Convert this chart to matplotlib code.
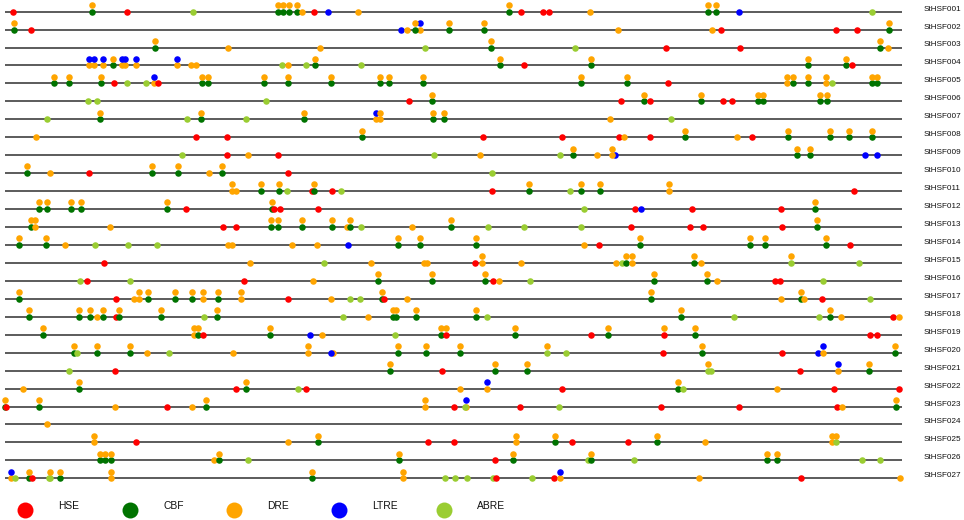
import matplotlib
matplotlib.use('Agg')
import matplotlib.pyplot as plt

# element codes: H=HSE, C=CBF, D=DRE, L=LTRE, A=ABRE
element_names = ['HSE', 'CBF', 'DRE', 'LTRE', 'ABRE']
element_codes = ['H', 'C', 'D', 'L', 'A']
element_colors = ['#ff0000', '#007300', '#ffa500', '#0000ff', '#9acd32']

genes = ['StHSF%03d' % i for i in range(1, 28)]

# sites per gene: (position, element on line, [element stacked above])
R01 = [(13,'H'),(92,'C','D'),(127,'H'),(193,'A'),(278,'C','D'),(283,'C','D'),(289,'C','D'),(297,'C','D'),(302,'D'),(314,'H'),(328,'L'),(358,'D'),(509,'C','D'),(521,'H'),(543,'H'),(549,'H'),(590,'D'),(708,'C','D'),(716,'C','D'),(739,'L'),(872,'A')]
R02 = [(14,'C','D'),(31,'H'),(401,'L'),(407,'D'),(420,'D','L'),(415,'C','D'),(449,'C','D'),(484,'C','D'),(618,'D'),(712,'D'),(721,'H'),(836,'H'),(857,'H'),(889,'C','D')]
R03 = [(155,'C','D'),(228,'D'),(320,'D'),(425,'A'),(491,'C','D'),(575,'A'),(666,'H'),(740,'H'),(880,'C','D'),(888,'D')]
R04 = [(89,'D','L'),(94,'D','L'),(103,'D','L'),(113,'C','D'),(122,'D','L'),(125,'D','L'),(136,'D','L'),(177,'D','L'),(191,'D'),(196,'D'),(282,'A'),(288,'D'),(306,'A'),(315,'C','D'),(361,'A'),(500,'C','D'),(524,'H'),(591,'C','D'),(808,'C','D'),(846,'C','D'),(852,'H')]
R05 = [(54,'C','D'),(69,'C','D'),(101,'C','D'),(114,'H'),(127,'A'),(146,'A'),(154,'D','L'),(158,'H'),(202,'C','D'),(208,'C','D'),(264,'C','D'),(288,'C','D'),(331,'C','D'),(380,'C','D'),(389,'C','D'),(423,'C','D'),(581,'C','D'),(627,'C','D'),(668,'H'),(787,'D','D'),(793,'C','D'),(808,'C','D'),(826,'D','D'),(832,'A'),(872,'C','D'),(877,'C','D')]
R06 = [(88,'A'),(97,'A'),(266,'A'),(409,'H'),(432,'C','D'),(621,'H'),(644,'C','D'),(650,'H'),(701,'C','D'),(723,'H'),(732,'H'),(758,'C','D'),(763,'C','D'),(820,'C','D'),(827,'C','D')]
R07 = [(47,'A'),(100,'C','D'),(187,'A'),(201,'C','D'),(246,'A'),(304,'C','D'),(376,'D','L'),(380,'D','D'),(433,'C','D'),(444,'C','D'),(610,'D'),(671,'A')]
R08 = [(36,'D'),(196,'H'),(227,'H'),(362,'C','D'),(483,'H'),(562,'H'),(619,'H'),(624,'D'),(650,'H'),(685,'C','D'),(737,'D'),(752,'H'),(788,'C','D'),(830,'C','D'),(849,'C','D'),(872,'C','D')]
R09 = [(182,'A'),(227,'H'),(248,'D'),(278,'H'),(434,'A'),(480,'D'),(560,'A'),(573,'C','D'),(597,'D'),(615,'L'),(612,'D','D'),(797,'C','D'),(810,'C','D'),(865,'L'),(877,'L')]
R10 = [(27,'C','D'),(50,'D'),(89,'H'),(152,'C','D'),(178,'C','D'),(209,'D'),(222,'C','D'),(288,'H'),(492,'A')]
R11 = [(232,'D','D'),(236,'D'),(261,'C','D'),(279,'C','D'),(287,'A'),(312,'H'),(314,'C','D'),(332,'H'),(341,'A'),(492,'H'),(529,'C','D'),(570,'A'),(581,'C','D'),(600,'C','D'),(669,'D','D'),(854,'H')]
R12 = [(39,'C','D'),(47,'C','D'),(71,'C','D'),(81,'C','D'),(167,'C','D'),(186,'H'),(272,'C','D'),(274,'H'),(280,'H'),(318,'H'),(584,'A'),(635,'H'),(641,'L'),(692,'H'),(781,'H'),(815,'C','D')]
R13 = [(31,'C','D'),(35,'D','D'),(110,'D'),(223,'H'),(236,'H'),(271,'C','D'),(278,'C','D'),(302,'C','D'),(332,'C','D'),(347,'D'),(350,'C','D'),(361,'A'),(412,'D'),(451,'C','D'),(488,'A'),(524,'A'),(581,'A'),(631,'H'),(690,'H'),(703,'H'),(782,'H'),(817,'C','D')]
R14 = [(19,'C','D'),(46,'C','D'),(65,'D'),(95,'A'),(128,'A'),(157,'A'),(228,'D'),(232,'D'),(292,'D'),(317,'D'),(348,'L'),(398,'C','D'),(420,'C','D'),(476,'C','D'),(584,'D'),(599,'H'),(640,'C','D'),(750,'C','D'),(765,'C','D'),(826,'C','D'),(850,'H')]
R15 = [(104,'H'),(250,'D'),(324,'A'),(371,'D'),(424,'D'),(427,'D'),(475,'H'),(482,'D','D'),(521,'D'),(616,'D'),(622,'A'),(626,'C','D'),(632,'D','D'),(694,'C','D'),(701,'D'),(791,'A','D'),(859,'A')]
R16 = [(80,'A'),(87,'H'),(130,'A'),(244,'H'),(313,'D'),(378,'C','D'),(432,'C','D'),(485,'C','D'),(493,'H'),(499,'D'),(530,'A'),(654,'C','D'),(707,'C','D'),(717,'D'),(775,'H'),(780,'H'),(823,'A')]
R17 = [(19,'C','D'),(116,'H'),(134,'D'),(139,'D','D'),(148,'C','D'),(175,'C','D'),(192,'C','D'),(203,'D','D'),(218,'C','D'),(241,'D','D'),(288,'H'),(331,'D'),(350,'A'),(360,'A'),(382,'C','D'),(384,'H'),(407,'D'),(651,'C','D'),(781,'D'),(801,'C','D'),(804,'D'),(822,'H'),(870,'A')]
R18 = [(29,'C','D'),(79,'C','D'),(90,'C','D'),(97,'D'),(103,'C','D'),(116,'H'),(119,'C','D'),(161,'C','D'),(204,'A'),(217,'C','D'),(343,'A'),(368,'D'),(393,'C','D'),(396,'C','D'),(416,'C','D'),(476,'C','D'),(487,'A'),(681,'C','D'),(734,'A'),(819,'A'),(830,'C','D'),(841,'D'),(893,'H'),(899,'D')]
R19 = [(43,'C','D'),(194,'D','D'),(198,'C','D'),(203,'H'),(270,'C','D'),(310,'L'),(322,'D'),(395,'A'),(441,'C','D'),(446,'H','D'),(515,'C','D'),(591,'H'),(608,'C','D'),(664,'H','D'),(695,'C','D'),(870,'H'),(877,'H')]
R20 = [(74,'C','D'),(77,'A'),(97,'C','D'),(130,'C','D'),(147,'D'),(169,'A'),(233,'D'),(308,'D','D'),(333,'D'),(331,'L'),(398,'C','D'),(426,'C','D'),(460,'C','D'),(547,'A','D'),(566,'A'),(663,'H'),(702,'C','D'),(782,'H'),(818,'L'),(823,'D','L'),(895,'C','D')]
R21 = [(69,'A'),(115,'H'),(390,'C','D'),(442,'H'),(495,'C','D'),(527,'C','D'),(708,'A','D'),(711,'A'),(800,'H'),(838,'D','L'),(869,'C','D')]
R22 = [(23,'D'),(79,'C','D'),(236,'H'),(246,'C','D'),(298,'A'),(306,'H'),(460,'D'),(487,'D','L'),(562,'H'),(678,'C','D'),(683,'A'),(777,'D'),(834,'H'),(899,'H')]
R23 = [(5,'C','D'),(6,'H'),(39,'C','D'),(115,'D'),(167,'H'),(192,'D'),(206,'C','D'),(425,'D','D'),(454,'H'),(466,'D','L'),(465,'A'),(520,'H'),(559,'A'),(661,'H'),(739,'H'),(837,'H'),(842,'D'),(896,'C','D')]
R24 = [(47,'D')]
R25 = [(94,'D','D'),(136,'H'),(288,'D'),(318,'C','D'),(428,'H'),(454,'H'),(516,'D','D'),(555,'C','D'),(572,'H'),(628,'H'),(657,'C','D'),(705,'D'),(832,'D','D'),(836,'A','D')]
R26 = [(100,'C','D'),(105,'C','D'),(111,'C','D'),(214,'D'),(219,'C','D'),(248,'A'),(399,'C','D'),(495,'H'),(513,'C','D'),(588,'A'),(591,'C','D'),(634,'A'),(767,'C','D'),(777,'C','D'),(862,'A'),(880,'A')]
R27 = [(11,'D','L'),(15,'A'),(29,'C','D'),(32,'H'),(49,'A'),(50,'A','D'),(60,'C','D'),(111,'D','D'),(312,'C','D'),(403,'D','D'),(445,'A'),(455,'A'),(467,'A'),(493,'A'),(496,'H'),(532,'A'),(554,'H'),(560,'D','L'),(699,'D'),(801,'H'),(900,'D')]

rows = [R01, R02, R03, R04, R05, R06, R07, R08, R09, R10, R11, R12, R13, R14,
        R15, R16, R17, R18, R19, R20, R21, R22, R23, R24, R25, R26, R27]

seq_start, seq_end = 5, 902

# ---- layout (pixel based) ----
W, H = 964, 520
Y0, DY = 11.6, 17.95       # first row y (px) and row spacing (px)
STACK = 6.7 / DY           # stacked offset in row units
color_of = dict(zip(element_codes, element_colors))

fig = plt.figure(figsize=(W / 100, H / 100), dpi=100)
ax = fig.add_axes([0, 0, 1, 1])
ax.set_xlim(0, W)
ax.set_ylim((H - Y0) / DY, -Y0 / DY)
ax.axis('off')

ax.hlines(range(len(genes)), seq_start, seq_end, color='#404040', lw=1.2, zorder=1)

for i, (gene, sites) in enumerate(zip(genes, rows)):
    for s in sites:
        pos = s[0]
        ax.plot(pos, i, 'o', ms=4.7, mec='none', color=color_of[s[1]], zorder=2)
        if len(s) > 2:
            ax.plot(pos, i - STACK, 'o', ms=4.7, mec='none', color=color_of[s[2]], zorder=3)
    ax.text(924, i - 2.5 / DY, gene, fontsize=5.9, family='Liberation Sans',
            va='center', ha='left', color='#111111')

# legend
leg_x = [25, 130, 234, 339, 444]
for k, (name, col) in enumerate(zip(element_names, element_colors)):
    ax.plot(leg_x[k], (510 - Y0) / DY, 'o', ms=11.5, mec='none', color=col, clip_on=False)
    ax.text(leg_x[k] + 33, (506 - Y0) / DY, name, fontsize=7.4, family='Liberation Sans',
            va='center', ha='left', color='#111111')

fig.savefig('out.png', dpi=100)
